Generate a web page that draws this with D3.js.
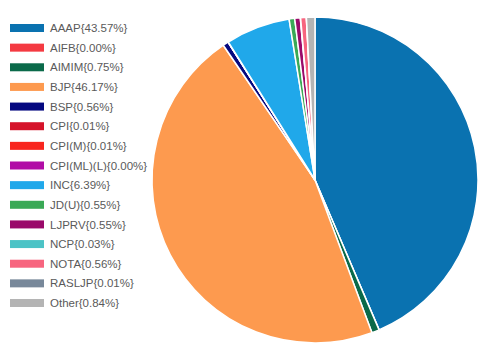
<!DOCTYPE html>
<html>
<head>
<meta charset="utf-8">
<script src="https://cdn.jsdelivr.net/npm/d3@7"></script>
<style>
  body { margin: 0; background: #fff; }
  text { font-family: "Liberation Sans", Arial, sans-serif; }
</style>
</head>
<body>
<div id="chart"></div>
<script>
// party names, vote share (%) and colours
const parties = ["AAAP", "AIFB", "AIMIM", "BJP", "BSP", "CPI", "CPI(M)", "CPI(ML)(L)",
  "INC", "JD(U)", "LJPRV", "NCP", "NOTA", "RASLJP", "Other"];
const shares = [43.57, 0.00, 0.75, 46.17, 0.56, 0.01, 0.01, 0.00,
  6.39, 0.55, 0.55, 0.03, 0.56, 0.01, 0.84];
const colors = ["#0a72b0", "#f43a42", "#0b6a4a", "#fd9a4f", "#050880", "#d5132a", "#f8261f", "#b10ca6",
  "#20a8ea", "#3aa956", "#9a0a6a", "#4cc3c6", "#f7657f", "#78889a", "#b4b4b4"];

let width = 480;
let height = 354;

let data = parties.map((p, i) => ({ label: p, value: shares[i], color: colors[i] }));

let svg = d3.select("#chart").append("svg")
  .attr("width", width)
  .attr("height", height);

// legend on the left
let legendY = d3.scalePoint().domain(parties).range([28, 303]);

let legend = svg.append("g").selectAll("g")
  .data(data)
  .enter().append("g")
  .attr("transform", d => "translate(10," + legendY(d.label) + ")");

legend.append("rect")
  .attr("x", 0)
  .attr("y", -4)
  .attr("width", 34)
  .attr("height", 8)
  .attr("fill", d => d.color);

legend.append("text")
  .attr("x", 40)
  .attr("dy", "0.36em")
  .attr("fill", "#5a5a5a")
  .style("font-size", "11.5px")
  .text(d => d.label + "{" + d.value.toFixed(2) + "%}");

// pie
let radius = 163;
let pie = d3.pie()
  .sort(null)
  .value(d => d.value);

let arc = d3.arc()
  .innerRadius(0)
  .outerRadius(radius);

let g = svg.append("g")
  .attr("transform", "translate(315,180)");

g.selectAll("path")
  .data(pie(data))
  .enter().append("path")
  .attr("d", arc)
  .attr("fill", d => d.data.color)
  .attr("stroke", "#fff")
  .attr("stroke-width", 1.5)
  .attr("stroke-linejoin", "round");
</script>
</body>
</html>
